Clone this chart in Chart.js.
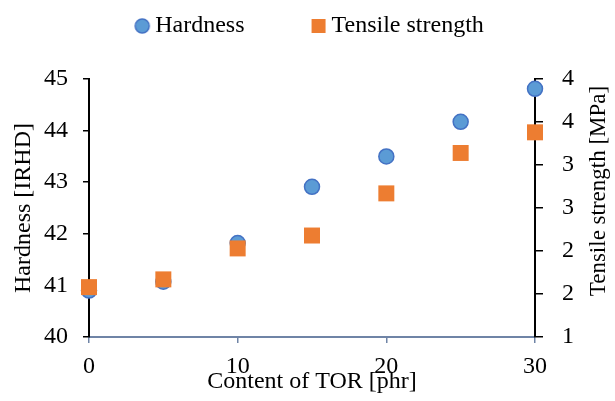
<!DOCTYPE html>
<html>
<head>
<meta charset="utf-8">
<script src="https://cdn.jsdelivr.net/npm/chart.js@4.4.0/dist/chart.umd.min.js"></script>
<style>
  html, body { margin: 0; padding: 0; background: #fff; }
  #wrap { width: 615px; height: 401px; }
</style>
</head>
<body>
<div id="wrap"><canvas id="myChart"></canvas></div>
<script>
// TOR content [phr] and measured values
const torContent = [0, 5, 10, 15, 20, 25, 30];
const hardness = [40.90, 41.07, 41.82, 42.91, 43.50, 44.17, 44.81];
const tensile = [1.58, 1.67, 2.03, 2.18, 2.67, 3.14, 3.38];

const blue = '#5B9BD5', blueEdge = '#4472C4', orange = '#ED7D31';
const axisGray = '#6f84a6';
const serif = "'Liberation Serif', 'Times New Roman', serif";

// small canvases used as legend symbols
function marker(draw) {
    const c = document.createElement('canvas');
    c.width = 18; c.height = 18;
    draw(c.getContext('2d'));
    return c;
}
const circleMark = marker(g => {
    g.beginPath(); g.arc(9, 9, 7, 0, Math.PI * 2);
    g.fillStyle = blue; g.fill();
    g.lineWidth = 1.5; g.strokeStyle = blueEdge; g.stroke();
});
const squareMark = marker(g => {
    g.fillStyle = orange; g.fillRect(2, 2, 14, 14);
});

Chart.defaults.font.family = serif;
Chart.defaults.font.size = 24;
Chart.defaults.color = '#000';

// fixed legend height; the wide item padding is taken back off the top
const legendBox = {
    id: 'legendBox',
    beforeInit(chart) {
        const fit = chart.legend.fit;
        chart.legend.fit = function () {
            fit.bind(chart.legend)();
            this.height = 79;
        };
    },
    afterLayout(chart) {
        const lg = chart.legend;
        lg.left += 5; lg.right += 5;
        lg.top -= 59;
    }
};

// right axis title, reading bottom to top
const rightTitle = {
    id: 'rightTitle',
    afterDraw(chart) {
        const c = chart.ctx;
        const area = chart.chartArea;
        c.save();
        c.translate(chart.width - 16, (area.top + area.bottom) / 2 - 17);
        c.rotate(-Math.PI / 2);
        c.font = '23px ' + serif;
        c.fillStyle = '#000';
        c.textAlign = 'center';
        c.textBaseline = 'middle';
        c.fillText('Tensile strength [MPa]', 0, 0);
        c.restore();
    }
};

const ctx = document.getElementById('myChart');
const myChart = new Chart(ctx, {
    type: 'scatter',
    data: {
        datasets: [{
            label: 'Tensile strength',
            data: torContent.map((x, i) => ({x: x, y: tensile[i]})),
            yAxisID: 'y1',
            pointStyle: 'rect',
            pointRadius: 11.3,
            pointHoverRadius: 11.3,
            backgroundColor: orange,
            borderWidth: 0,
            clip: false
        }, {
            label: 'Hardness',
            data: torContent.map((x, i) => ({x: x, y: hardness[i]})),
            yAxisID: 'y',
            pointStyle: 'circle',
            pointRadius: 7.5,
            pointHoverRadius: 7.5,
            backgroundColor: blue,
            borderColor: blueEdge,
            borderWidth: 1.5,
            clip: false
        }]
    },
    options: {
        responsive: true,
        maintainAspectRatio: false,
        animation: false,
        layout: { padding: 0 },
        plugins: {
            tooltip: { enabled: false },
            legend: {
                position: 'top',
                labels: {
                    usePointStyle: true,
                    boxWidth: 2,
                    boxHeight: 16,
                    padding: 73,
                    generateLabels(chart) {
                        const items = Chart.defaults.plugins.legend.labels.generateLabels(chart);
                        items.forEach(it => {
                            it.pointStyle = it.datasetIndex === 1 ? circleMark : squareMark;
                        });
                        return items.reverse();
                    }
                }
            }
        },
        scales: {
            x: {
                type: 'linear',
                min: 0,
                max: 30,
                afterFit(s) { s.height = 64; },
                ticks: { stepSize: 10, padding: 9 },
                grid: { drawOnChartArea: false, tickLength: 6, color: axisGray, lineWidth: 1.5 },
                border: { color: axisGray, width: 2 },
                title: { display: true, text: 'Content of TOR [phr]', padding: { top: 0, bottom: 5 } }
            },
            y: {
                position: 'left',
                min: 40,
                max: 45,
                afterFit(s) { s.width = 89; },
                ticks: { stepSize: 1, padding: 15, autoSkip: false },
                grid: { drawOnChartArea: false, tickLength: 6, color: '#000', lineWidth: 1.5 },
                border: { color: '#000', width: 2 },
                title: { display: true, text: 'Hardness [IRHD]', padding: { top: 9, bottom: 0 } }
            },
            y1: {
                position: 'right',
                min: 1,
                max: 4,
                afterFit(s) { s.width = 80; },
                ticks: {
                    stepSize: 0.5,
                    padding: 19,
                    autoSkip: false,
                    callback: v => Math.round(v)
                },
                grid: { drawOnChartArea: false, tickLength: 8, color: '#000', lineWidth: 1.5 },
                border: { color: '#000', width: 2 }
            }
        }
    },
    plugins: [legendBox, rightTitle]
});
</script>
</body>
</html>
